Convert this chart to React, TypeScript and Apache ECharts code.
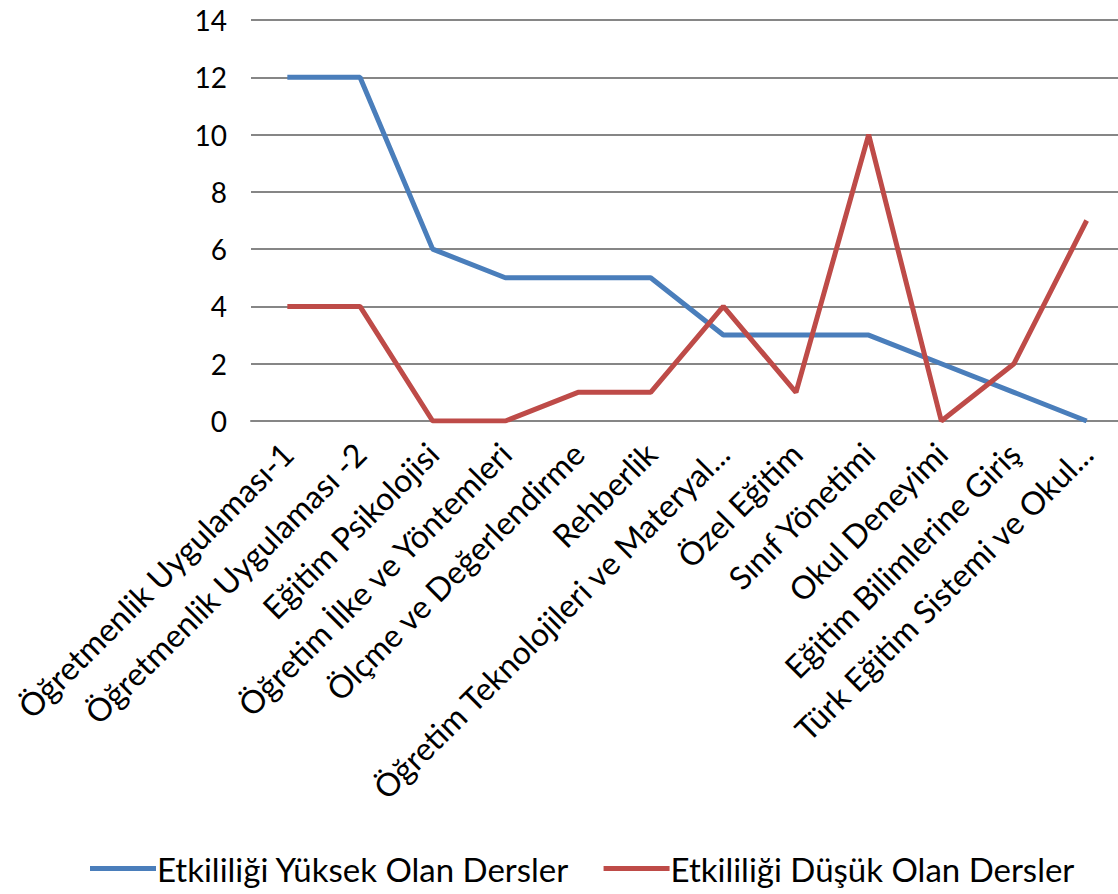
import React, { useEffect, useRef } from "react";
import * as echarts from "echarts";

const categories = [
  "Öğretmenlik Uygulaması-1",
  "Öğretmenlik Uygulaması -2",
  "Eğitim Psikolojisi",
  "Öğretim İlke ve Yöntemleri",
  "Ölçme ve Değerlendirme",
  "Rehberlik",
  "Öğretim Teknolojileri ve Materyal...",
  "Özel Eğitim",
  "Sınıf Yönetimi",
  "Okul Deneyimi",
  "Eğitim Bilimlerine Giriş",
  "Türk Eğitim Sistemi ve Okul...",
];
const highSeries = [12, 12, 6, 5, 5, 5, 3, 3, 3, 2, 1, 0];
const lowSeries = [4, 4, 0, 0, 1, 1, 4, 1, 10, 0, 2, 7];
const seriesNames = ["Etkililiği Yüksek Olan Dersler", "Etkililiği Düşük Olan Dersler"];

const FONT = "Lato, 'Open Sans', sans-serif";

export default function App() {
  const ref = useRef<HTMLDivElement>(null);
  useEffect(() => {
    if (!ref.current) return;
    const chart = echarts.init(ref.current, undefined, { renderer: "svg" });
    chart.setOption({
      animation: false,
      backgroundColor: "#ffffff",
      textStyle: { fontFamily: FONT },
      grid: { left: 251, top: 20, width: 872, height: 401, containLabel: false },
      legend: {
        left: 85,
        top: 847,
        icon: "rect",
        itemWidth: 66,
        itemHeight: 5,
        itemGap: 34,
        textStyle: { fontSize: 33, color: "#000", fontFamily: FONT, padding: [0, 0, 0, -4] },
        data: seriesNames,
      },
      xAxis: {
        type: "category",
        data: categories,
        boundaryGap: true,
        axisLine: { show: true, lineStyle: { color: "#868686", width: 2 } },
        axisTick: { show: false },
        axisLabel: {
          interval: 0,
          rotate: 45,
          fontSize: 32,
          color: "#000",
          fontFamily: FONT,
          margin: 27,
        },
      },
      yAxis: {
        type: "value",
        min: 0,
        max: 14,
        interval: 2,
        axisLine: { show: false },
        axisTick: { show: false },
        splitLine: { lineStyle: { color: "#868686", width: 2 } },
        axisLabel: { fontSize: 28, color: "#000", fontFamily: FONT, margin: 24 },
      },
      series: [
        {
          name: seriesNames[0],
          type: "line",
          data: highSeries,
          symbol: "none",
          lineStyle: { color: "#4A7EBB", width: 5 },
          itemStyle: { color: "#4A7EBB" },
        },
        {
          name: seriesNames[1],
          type: "line",
          data: lowSeries,
          symbol: "none",
          lineStyle: { color: "#BE4B48", width: 5 },
          itemStyle: { color: "#BE4B48" },
        },
      ],
    });
    return () => chart.dispose();
  }, []);
  return (
    <div
      ref={ref}
      style={{ position: "fixed", left: 0, top: 0, width: 1130, height: 894, background: "#fff" }}
    />
  );
}
